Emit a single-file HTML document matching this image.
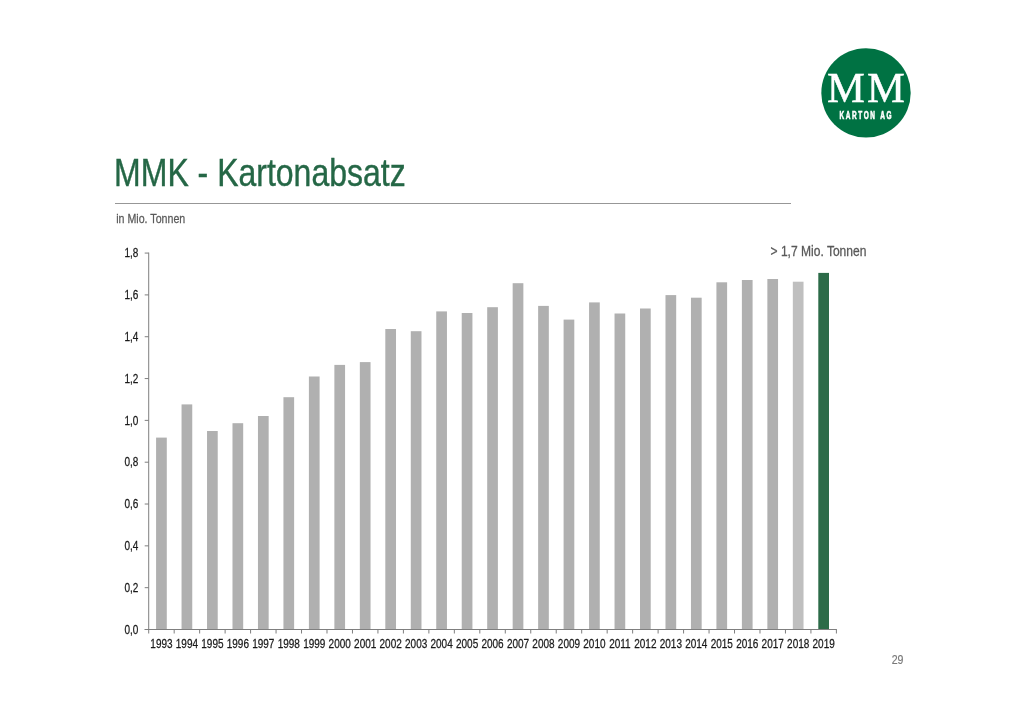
<!DOCTYPE html>
<html lang="de">
<head>
<meta charset="utf-8">
<title>MMK - Kartonabsatz</title>
<style>
html,body{margin:0;padding:0;background:#fff;}
body{width:1024px;height:724px;overflow:hidden;position:relative;
  font-family:"Liberation Sans",sans-serif;}
svg{position:absolute;left:0;top:0;display:block;}
svg text{font-family:"Liberation Sans",sans-serif;}
svg text.serif{font-family:"Liberation Serif",serif;}
</style>
</head>
<body>
<svg width="1024" height="724" viewBox="0 0 1024 724">

<g id="logo">
<circle cx="866" cy="92.9" r="44.7" fill="#007243"/>
<text class="serif" transform="translate(826.9 101.6) scale(1.0 1)" font-size="42.6" letter-spacing="2.2" fill="#fff" stroke="#fff" stroke-width="0.5">MM</text>
<text transform="translate(839.6 119.0) scale(0.61 1)" font-size="10.6" font-weight="bold" letter-spacing="2.6" word-spacing="0.9" fill="#fff" stroke="#fff" stroke-width="0.6">KARTON AG</text>
</g>
<text transform="translate(114.10 186.30) scale(0.829 1)" font-size="38.6" fill="#256746" stroke="#256746" stroke-width="0.4" text-anchor="start">MMK - Kartonabsatz</text>
<rect x="115" y="203" width="676" height="1" fill="#979797"/>
<text transform="translate(116.20 222.50) scale(0.82 1)" font-size="13" fill="#5a5a5a" stroke="#5a5a5a" stroke-width="0.25" text-anchor="start">in Mio. Tonnen</text>
<g id="bars">
<rect x="156.09" y="437.60" width="10.7" height="191.90" fill="#b0b0b0"/>
<rect x="181.55" y="404.40" width="10.7" height="225.10" fill="#b0b0b0"/>
<rect x="207.03" y="431.00" width="10.7" height="198.50" fill="#b0b0b0"/>
<rect x="232.49" y="423.20" width="10.7" height="206.30" fill="#b0b0b0"/>
<rect x="257.96" y="416.00" width="10.7" height="213.50" fill="#b0b0b0"/>
<rect x="283.43" y="397.20" width="10.7" height="232.30" fill="#b0b0b0"/>
<rect x="308.90" y="376.50" width="10.7" height="253.00" fill="#b0b0b0"/>
<rect x="334.37" y="364.90" width="10.7" height="264.60" fill="#b0b0b0"/>
<rect x="359.84" y="362.10" width="10.7" height="267.40" fill="#b0b0b0"/>
<rect x="385.31" y="329.00" width="10.7" height="300.50" fill="#b0b0b0"/>
<rect x="410.78" y="331.20" width="10.7" height="298.30" fill="#b0b0b0"/>
<rect x="436.25" y="311.40" width="10.7" height="318.10" fill="#b0b0b0"/>
<rect x="461.72" y="313.00" width="10.7" height="316.50" fill="#b0b0b0"/>
<rect x="487.19" y="307.20" width="10.7" height="322.30" fill="#b0b0b0"/>
<rect x="512.66" y="283.20" width="10.7" height="346.30" fill="#b0b0b0"/>
<rect x="538.13" y="305.90" width="10.7" height="323.60" fill="#b0b0b0"/>
<rect x="563.60" y="319.60" width="10.7" height="309.90" fill="#b0b0b0"/>
<rect x="589.07" y="302.40" width="10.7" height="327.10" fill="#b0b0b0"/>
<rect x="614.54" y="313.50" width="10.7" height="316.00" fill="#b0b0b0"/>
<rect x="640.01" y="308.50" width="10.7" height="321.00" fill="#b0b0b0"/>
<rect x="665.49" y="295.10" width="10.7" height="334.40" fill="#b0b0b0"/>
<rect x="690.96" y="297.70" width="10.7" height="331.80" fill="#b0b0b0"/>
<rect x="716.42" y="282.30" width="10.7" height="347.20" fill="#b0b0b0"/>
<rect x="741.89" y="280.00" width="10.7" height="349.50" fill="#b0b0b0"/>
<rect x="767.36" y="279.00" width="10.7" height="350.50" fill="#b0b0b0"/>
<rect x="792.83" y="281.70" width="10.7" height="347.80" fill="#bfbfbf"/>
<rect x="818.30" y="272.90" width="10.7" height="356.60" fill="#2c6b48"/>
</g>
<g id="axes" fill="#7f7f7f">
<rect x="148.20" y="252.57" width="1" height="377.43"/>
<rect x="144.70" y="629.00" width="692.19" height="1"/>
<rect x="144.70" y="629.00" width="4" height="1"/>
<rect x="144.70" y="587.17" width="4" height="1"/>
<rect x="144.70" y="545.35" width="4" height="1"/>
<rect x="144.70" y="503.52" width="4" height="1"/>
<rect x="144.70" y="461.70" width="4" height="1"/>
<rect x="144.70" y="419.88" width="4" height="1"/>
<rect x="144.70" y="378.05" width="4" height="1"/>
<rect x="144.70" y="336.22" width="4" height="1"/>
<rect x="144.70" y="294.40" width="4" height="1"/>
<rect x="144.70" y="252.57" width="4" height="1"/>
<rect x="148.20" y="629.50" width="1" height="4"/>
<rect x="173.67" y="629.50" width="1" height="4"/>
<rect x="199.14" y="629.50" width="1" height="4"/>
<rect x="224.61" y="629.50" width="1" height="4"/>
<rect x="250.08" y="629.50" width="1" height="4"/>
<rect x="275.55" y="629.50" width="1" height="4"/>
<rect x="301.02" y="629.50" width="1" height="4"/>
<rect x="326.49" y="629.50" width="1" height="4"/>
<rect x="351.96" y="629.50" width="1" height="4"/>
<rect x="377.43" y="629.50" width="1" height="4"/>
<rect x="402.90" y="629.50" width="1" height="4"/>
<rect x="428.37" y="629.50" width="1" height="4"/>
<rect x="453.84" y="629.50" width="1" height="4"/>
<rect x="479.31" y="629.50" width="1" height="4"/>
<rect x="504.78" y="629.50" width="1" height="4"/>
<rect x="530.25" y="629.50" width="1" height="4"/>
<rect x="555.72" y="629.50" width="1" height="4"/>
<rect x="581.19" y="629.50" width="1" height="4"/>
<rect x="606.66" y="629.50" width="1" height="4"/>
<rect x="632.13" y="629.50" width="1" height="4"/>
<rect x="657.60" y="629.50" width="1" height="4"/>
<rect x="683.07" y="629.50" width="1" height="4"/>
<rect x="708.54" y="629.50" width="1" height="4"/>
<rect x="734.01" y="629.50" width="1" height="4"/>
<rect x="759.48" y="629.50" width="1" height="4"/>
<rect x="784.95" y="629.50" width="1" height="4"/>
<rect x="810.42" y="629.50" width="1" height="4"/>
<rect x="835.89" y="629.50" width="1" height="4"/>
</g>
<g id="ylabels">
<text transform="translate(138.30 633.70) scale(0.82 1)" font-size="12.2" fill="#1a1a1a" stroke="#1a1a1a" stroke-width="0.25" text-anchor="end">0,0</text>
<text transform="translate(138.30 591.88) scale(0.82 1)" font-size="12.2" fill="#1a1a1a" stroke="#1a1a1a" stroke-width="0.25" text-anchor="end">0,2</text>
<text transform="translate(138.30 550.05) scale(0.82 1)" font-size="12.2" fill="#1a1a1a" stroke="#1a1a1a" stroke-width="0.25" text-anchor="end">0,4</text>
<text transform="translate(138.30 508.22) scale(0.82 1)" font-size="12.2" fill="#1a1a1a" stroke="#1a1a1a" stroke-width="0.25" text-anchor="end">0,6</text>
<text transform="translate(138.30 466.40) scale(0.82 1)" font-size="12.2" fill="#1a1a1a" stroke="#1a1a1a" stroke-width="0.25" text-anchor="end">0,8</text>
<text transform="translate(138.30 424.57) scale(0.82 1)" font-size="12.2" fill="#1a1a1a" stroke="#1a1a1a" stroke-width="0.25" text-anchor="end">1,0</text>
<text transform="translate(138.30 382.75) scale(0.82 1)" font-size="12.2" fill="#1a1a1a" stroke="#1a1a1a" stroke-width="0.25" text-anchor="end">1,2</text>
<text transform="translate(138.30 340.92) scale(0.82 1)" font-size="12.2" fill="#1a1a1a" stroke="#1a1a1a" stroke-width="0.25" text-anchor="end">1,4</text>
<text transform="translate(138.30 299.10) scale(0.82 1)" font-size="12.2" fill="#1a1a1a" stroke="#1a1a1a" stroke-width="0.25" text-anchor="end">1,6</text>
<text transform="translate(138.30 257.27) scale(0.82 1)" font-size="12.2" fill="#1a1a1a" stroke="#1a1a1a" stroke-width="0.25" text-anchor="end">1,8</text>
</g>
<g id="xlabels">
<text transform="translate(161.44 647.90) scale(0.82 1)" font-size="12.2" fill="#1a1a1a" stroke="#1a1a1a" stroke-width="0.25" text-anchor="middle">1993</text>
<text transform="translate(186.90 647.90) scale(0.82 1)" font-size="12.2" fill="#1a1a1a" stroke="#1a1a1a" stroke-width="0.25" text-anchor="middle">1994</text>
<text transform="translate(212.38 647.90) scale(0.82 1)" font-size="12.2" fill="#1a1a1a" stroke="#1a1a1a" stroke-width="0.25" text-anchor="middle">1995</text>
<text transform="translate(237.84 647.90) scale(0.82 1)" font-size="12.2" fill="#1a1a1a" stroke="#1a1a1a" stroke-width="0.25" text-anchor="middle">1996</text>
<text transform="translate(263.31 647.90) scale(0.82 1)" font-size="12.2" fill="#1a1a1a" stroke="#1a1a1a" stroke-width="0.25" text-anchor="middle">1997</text>
<text transform="translate(288.78 647.90) scale(0.82 1)" font-size="12.2" fill="#1a1a1a" stroke="#1a1a1a" stroke-width="0.25" text-anchor="middle">1998</text>
<text transform="translate(314.25 647.90) scale(0.82 1)" font-size="12.2" fill="#1a1a1a" stroke="#1a1a1a" stroke-width="0.25" text-anchor="middle">1999</text>
<text transform="translate(339.72 647.90) scale(0.82 1)" font-size="12.2" fill="#1a1a1a" stroke="#1a1a1a" stroke-width="0.25" text-anchor="middle">2000</text>
<text transform="translate(365.19 647.90) scale(0.82 1)" font-size="12.2" fill="#1a1a1a" stroke="#1a1a1a" stroke-width="0.25" text-anchor="middle">2001</text>
<text transform="translate(390.66 647.90) scale(0.82 1)" font-size="12.2" fill="#1a1a1a" stroke="#1a1a1a" stroke-width="0.25" text-anchor="middle">2002</text>
<text transform="translate(416.13 647.90) scale(0.82 1)" font-size="12.2" fill="#1a1a1a" stroke="#1a1a1a" stroke-width="0.25" text-anchor="middle">2003</text>
<text transform="translate(441.60 647.90) scale(0.82 1)" font-size="12.2" fill="#1a1a1a" stroke="#1a1a1a" stroke-width="0.25" text-anchor="middle">2004</text>
<text transform="translate(467.07 647.90) scale(0.82 1)" font-size="12.2" fill="#1a1a1a" stroke="#1a1a1a" stroke-width="0.25" text-anchor="middle">2005</text>
<text transform="translate(492.54 647.90) scale(0.82 1)" font-size="12.2" fill="#1a1a1a" stroke="#1a1a1a" stroke-width="0.25" text-anchor="middle">2006</text>
<text transform="translate(518.01 647.90) scale(0.82 1)" font-size="12.2" fill="#1a1a1a" stroke="#1a1a1a" stroke-width="0.25" text-anchor="middle">2007</text>
<text transform="translate(543.48 647.90) scale(0.82 1)" font-size="12.2" fill="#1a1a1a" stroke="#1a1a1a" stroke-width="0.25" text-anchor="middle">2008</text>
<text transform="translate(568.95 647.90) scale(0.82 1)" font-size="12.2" fill="#1a1a1a" stroke="#1a1a1a" stroke-width="0.25" text-anchor="middle">2009</text>
<text transform="translate(594.42 647.90) scale(0.82 1)" font-size="12.2" fill="#1a1a1a" stroke="#1a1a1a" stroke-width="0.25" text-anchor="middle">2010</text>
<text transform="translate(619.89 647.90) scale(0.82 1)" font-size="12.2" fill="#1a1a1a" stroke="#1a1a1a" stroke-width="0.25" text-anchor="middle">2011</text>
<text transform="translate(645.37 647.90) scale(0.82 1)" font-size="12.2" fill="#1a1a1a" stroke="#1a1a1a" stroke-width="0.25" text-anchor="middle">2012</text>
<text transform="translate(670.84 647.90) scale(0.82 1)" font-size="12.2" fill="#1a1a1a" stroke="#1a1a1a" stroke-width="0.25" text-anchor="middle">2013</text>
<text transform="translate(696.31 647.90) scale(0.82 1)" font-size="12.2" fill="#1a1a1a" stroke="#1a1a1a" stroke-width="0.25" text-anchor="middle">2014</text>
<text transform="translate(721.77 647.90) scale(0.82 1)" font-size="12.2" fill="#1a1a1a" stroke="#1a1a1a" stroke-width="0.25" text-anchor="middle">2015</text>
<text transform="translate(747.24 647.90) scale(0.82 1)" font-size="12.2" fill="#1a1a1a" stroke="#1a1a1a" stroke-width="0.25" text-anchor="middle">2016</text>
<text transform="translate(772.71 647.90) scale(0.82 1)" font-size="12.2" fill="#1a1a1a" stroke="#1a1a1a" stroke-width="0.25" text-anchor="middle">2017</text>
<text transform="translate(798.18 647.90) scale(0.82 1)" font-size="12.2" fill="#1a1a1a" stroke="#1a1a1a" stroke-width="0.25" text-anchor="middle">2018</text>
<text transform="translate(823.65 647.90) scale(0.82 1)" font-size="12.2" fill="#1a1a1a" stroke="#1a1a1a" stroke-width="0.25" text-anchor="middle">2019</text>
</g>
<text transform="translate(770.50 256.30) scale(0.838 1)" font-size="14.4" fill="#595959" stroke="#595959" stroke-width="0.3" text-anchor="start">&gt; 1,7 Mio. Tonnen</text>
<text transform="translate(903.50 664.00) scale(0.87 1)" font-size="12.2" fill="#7a7a7a" stroke="#7a7a7a" stroke-width="0.2" text-anchor="end">29</text>
</svg>
</body>
</html>
